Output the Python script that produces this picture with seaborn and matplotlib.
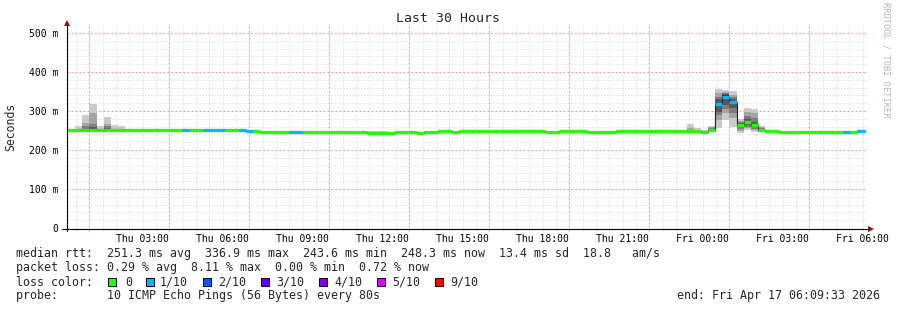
import numpy as np
import pandas as pd
import matplotlib
matplotlib.use("Agg")
import matplotlib.pyplot as plt
from matplotlib.lines import Line2D
from matplotlib.patches import Rectangle
import matplotlib.transforms as mtransforms
import seaborn as sns

# ---------------- data ----------------
STEP_MIN = 16                 # consolidation step in minutes
FIRST_STEP_MIN = -4           # first step starts Wed 23:56 (minutes from Thu 00:00)
VIEW_START_H = 9.55 / 60      # graph start Thu 00:09:33
VIEW_SPAN_H = 30

median_ms = [
    250.5, 250.5, 251.0, 251.5, 252.5, 251.5, 252.5, 251.5, 251.0, 251.0,
    251.0, 251.0, 250.5, 250.5, 250.5, 250.5, 250.5, 250.5, 251.0, 251.0,
    250.5, 250.5, 251.0, 251.0, 251.0, 251.5, 248.5, 248.5, 246.5, 246.5,
    246.5, 246.5, 246.5, 246.5, 246.0, 246.0, 246.0, 246.0, 246.0, 246.0,
    246.0, 246.0, 245.5, 244.5, 243.6, 244.0, 244.5, 246.0, 246.0, 246.5,
    244.5, 246.0, 247.0, 248.0, 248.5, 247.0, 248.5, 249.0, 248.5, 248.5,
    249.5, 249.0, 247.5, 247.5, 247.5, 248.0, 249.5, 248.5, 245.5, 247.0,
    248.0, 248.0, 248.0, 248.0, 245.5, 247.0, 246.0, 245.0, 247.5, 247.5,
    249.0, 248.0, 248.5, 248.5, 249.0, 248.5, 249.0, 248.5, 249.0, 248.5,
    247.0, 252.0, 318.0, 336.9, 323.0, 263.0, 271.0, 264.0, 252.0, 250.0,
    250.0, 247.0, 247.0, 245.5, 245.5, 245.5, 245.5, 246.0, 246.0, 246.0,
    247.0, 246.5, 248.3,
]

# lost pings (out of 10) per step -> loss colour index
loss_level = [
    0, 0, 0, 0, 0, 0, 0, 0, 0, 0,
    0, 0, 0, 0, 0, 0, 0, 1, 0, 0,
    1, 1, 1, 0, 0, 1, 1, 0, 0, 0,
    0, 0, 1, 1, 0, 0, 0, 0, 0, 0,
    0, 0, 0, 0, 0, 0, 0, 0, 0, 0,
    0, 0, 0, 0, 0, 0, 0, 0, 0, 0,
    0, 0, 0, 0, 0, 0, 0, 0, 0, 0,
    0, 0, 0, 0, 0, 0, 0, 0, 0, 0,
    0, 0, 0, 0, 0, 0, 0, 0, 0, 0,
    0, 0, 1, 1, 1, 0, 0, 0, 0, 0,
    0, 0, 0, 0, 0, 0, 0, 0, 0, 0,
    1, 0, 1,
]

# fastest ping below median / slowest ping above median (ms) for quiet steps
smoke_below = [
    3, 3, 5, 3, 3, 5, 3, 3, 5, 5,
    3, 3, 5, 3, 3, 5, 3, 5, 3, 3,
    5, 3, 3, 3, 3, 3, 3, 3, 3, 3,
    3, 3, 3, 3, 3, 5, 3, 3, 3, 3,
    4, 3, 3, 3, 3, 3, 3, 3, 3, 3,
    3, 3, 3, 3, 3, 3, 3, 3, 3, 3,
    3, 3, 3, 3, 3, 3, 3, 3, 3, 3,
    3, 3, 3, 3, 3, 3, 3, 3, 3, 3,
    3, 3, 3, 3, 3, 3, 3, 3, 3, 3,
    3, 3, 3, 3, 3, 3, 3, 3, 3, 3,
    3, 3, 3, 3, 3, 3, 3, 3, 3, 3,
    3, 3, 3,
]
smoke_above = [
    2, 2, 11, 2, 2, 10.5, 2, 12.5, 10, 2,
    2, 2, 2, 2, 2, 2, 2, 2, 2, 2,
    2, 2, 2, 2, 2, 2, 2, 2, 2, 2,
    2, 2, 2, 2, 2, 2, 2, 2, 2, 2,
    4, 4, 2, 5, 6, 5, 2, 4, 2, 2,
    2, 2, 2, 3, 3, 2, 3, 2, 2, 2,
    2, 2, 2, 2, 2, 2, 2, 2, 2, 2,
    2, 2, 2, 2, 2, 2, 2, 3, 3, 3,
    2, 2, 2, 2, 2, 2, 2, 2, 2, 8.5,
    4, 2, 2, 2, 2, 2, 2, 2, 2, 2,
    2, 2, 2, 2, 2, 2, 2, 2, 2, 2,
    2, 2, 2,
]

# all ten ping times (ms) for the steps with visible smoke
burst_pings = {
    3:  [247, 249, 250, 251, 251, 252, 254, 262, 270, 290],
    4:  [246, 248, 250, 252, 252, 253, 259, 267, 296, 318],
    6:  [247, 249, 250, 251, 252, 253, 256, 262, 266, 285],
    88: [246, 247, 248, 248, 249, 249, 250, 252, 257, 266],
    91: [248, 249, 250, 251, 252, 252, 254, 256, 258, 261],
    92: [256, 277, 290, 298, 315, 321, 330, 337, 347, 356],
    93: [277, 294, 305, 315, 334, 339.8, 343, 346, 349, 354],
    94: [258, 281, 295, 307, 320, 326, 332, 337, 341, 351],
    95: [244, 250, 255, 258, 262, 264, 268, 272, 275, 279],
    96: [251, 256, 260, 265, 269, 273, 280, 288, 298, 307],
    97: [247, 251, 255, 259, 263, 265, 272, 282, 294, 304],
    98: [246, 248, 249, 250, 251, 253, 254, 256, 258, 261],
}

x_tick_hours = [3, 6, 9, 12, 15, 18, 21, 24, 27, 30]
x_tick_labels = ["Thu 03:00", "Thu 06:00", "Thu 09:00", "Thu 12:00", "Thu 15:00",
                 "Thu 18:00", "Thu 21:00", "Fri 00:00", "Fri 03:00", "Fri 06:00"]
y_ticks = [0, 100, 200, 300, 400, 500]
y_tick_labels = ["0", "100 m", "200 m", "300 m", "400 m", "500 m"]

loss_names = ["0", "1/10", "2/10", "3/10", "4/10", "5/10", "9/10"]
loss_colors = ["#26ff00", "#00b8ff", "#0059ff", "#5e00ff", "#7e00ff", "#dd00ff", "#ff0000"]
smoke_grays = ["#cacaca", "#a4a4a4", "#7e7e7e", "#585858", "#323232"]

title = "Last 30 Hours"
y_label = "Seconds"
legend_lines = [
    "median rtt:  251.3 ms avg  336.9 ms max  243.6 ms min  248.3 ms now  13.4 ms sd  18.8   am/s",
    "packet loss: 0.29 % avg  8.11 % max  0.00 % min  0.72 % now",
    "loss color:",
    "probe:       10 ICMP Echo Pings (56 Bytes) every 80s",
]
end_text = "end: Fri Apr 17 06:09:33 2026"
watermark = "RRDTOOL / TOBI OETIKER"

# ---------------- figure ----------------
sns.set_style("white")
plt.rcParams["font.family"] = ["DejaVu Sans Mono", "DejaVu Sans"]

W, H = 897, 310
fig = plt.figure(figsize=(W / 100, H / 100), dpi=100)
fig.patch.set_facecolor("white")

def fx(px):
    return px / W

def fy(py):
    return 1 - py / H

ax = fig.add_axes([fx(67), fy(228), 800 / W, 202 / H])
ax.set_facecolor("white")
ax.set_xlim(VIEW_START_H, VIEW_START_H + VIEW_SPAN_H)
ax.set_ylim(0, 518)
for s in ax.spines.values():
    s.set_visible(False)

# grid
minor_c = "#d2d2d2"
major_c = "#f29a9a"
for v in np.arange(20, 518, 20):
    if v % 100 == 0:
        continue
    ax.axhline(v, color=minor_c, zorder=0, lw=0.72, ls=(0, (1, 2)))
for h in np.arange(0.5, 30.5, 0.5):
    if (h - 1) % 3 == 0:
        continue
    ax.axvline(h, color=minor_c, zorder=0, lw=0.72, ls=(0, (1, 2)))
for v in range(100, 501, 100):
    ax.axhline(v, color=major_c, zorder=0.5, lw=0.72, ls=(0, (2, 2)))
for h in range(1, 30, 3):
    ax.axvline(h, color=major_c, zorder=0.5, lw=0.72, ls=(0, (2, 2)))

# data frame
n = len(median_ms)
assert all(len(a) == n for a in (loss_level, smoke_below, smoke_above))
t_start = (FIRST_STEP_MIN + STEP_MIN * np.arange(n)) / 60.0
t_end = t_start + STEP_MIN / 60.0
df = pd.DataFrame({"t": t_start, "t_end": t_end, "median": median_ms, "loss": loss_level})

pings = np.empty((n, 10))
for k in range(n):
    if k in burst_pings:
        pings[k] = sorted(burst_pings[k])
    else:
        m = median_ms[k]
        pings[k] = [m - smoke_below[k]] + [m] * 8 + [m + smoke_above[k]]

t_edges = np.append(t_start, t_end[-1])
for i, g in enumerate(smoke_grays):
    lo = np.append(pings[:, i], pings[-1, i])
    hi = np.append(pings[:, 9 - i], pings[-1, 9 - i])
    ax.fill_between(t_edges, lo, hi, step="post", color=g, linewidth=0, zorder=2)

# thin dark median step line
med_ext = pd.DataFrame({"t": t_edges, "median": np.append(df["median"].values, df["median"].values[-1])})
sns.lineplot(data=med_ext, x="t", y="median", drawstyle="steps-post", color="#202020",
             lw=0.8, ax=ax, zorder=3, estimator=None, sort=False)

# loss coloured median segments
ax.hlines(df["median"], df["t"], df["t_end"], colors=[loss_colors[l] for l in df["loss"]],
          lw=2.4, zorder=4, capstyle="butt")

ax.set_xlabel("")
ax.set_ylabel("")

# ticks
ax.set_xticks(x_tick_hours, x_tick_labels)
ax.set_yticks(y_ticks, y_tick_labels)
ax.tick_params(axis="x", length=0, pad=4, labelsize=7, colors="black")
ax.tick_params(axis="y", length=4, width=0.7, pad=2.5, labelsize=7, colors="black", direction="out")

trans = mtransforms.blended_transform_factory(ax.transData, ax.transAxes)
minor_t = [h for h in np.arange(0.5, 30.5, 0.5) if (h - 1) % 3 != 0 and h > VIEW_START_H]
major_t = list(range(1, 30, 3))
ax.vlines(minor_t, -0.012, 0, transform=trans, colors="#b0b0b0", lw=0.7, clip_on=False)
ax.vlines(major_t, -0.015, 0, transform=trans, colors="#e08080", lw=0.7, clip_on=False)

# axis lines with arrows
fig.add_artist(Line2D([fx(66.5), fx(66.5)], [fy(231), fy(24)], color="black", lw=0.8))
fig.add_artist(Line2D([fx(62), fx(869)], [fy(228.5), fy(228.5)], color="black", lw=0.8))
fig.add_artist(Line2D([fx(66.5)], [fy(22.5)], marker="^", markersize=4, color="#8b1010",
                      markeredgewidth=0, linestyle="none"))
fig.add_artist(Line2D([fx(870.5)], [fy(228.5)], marker=">", markersize=4, color="#8b1010",
                      markeredgewidth=0, linestyle="none"))

# texts
fig.text(fx(447.5), fy(19), title, ha="center", va="center", fontsize=9.5)
fig.text(fx(11), fy(127), y_label, ha="center", va="center", rotation=90, fontsize=8.3)
fig.text(fx(886), fy(60), watermark, ha="center", va="center", rotation=270, fontsize=6.2,
         color="#b4b4b4")

leg_y = [254, 268, 282, 296]
for txt, yy in zip(legend_lines, leg_y):
    fig.text(fx(16), fy(yy), txt, ha="left", va="center", fontsize=8.37)
fig.text(fx(880), fy(296), end_text, ha="right", va="center", fontsize=8.37)

box_x = [108, 146, 203, 261, 319, 377, 435]
lab_x = [125, 160, 218, 276, 334, 392, 450]
for name, col, bx, lx in zip(loss_names, loss_colors, box_x, lab_x):
    fig.add_artist(Rectangle((fx(bx), fy(286)), 8 / W, 8 / H, facecolor=col,
                             edgecolor="black", lw=0.7, transform=fig.transFigure))
    fig.text(fx(lx), fy(282), name, ha="left", va="center", fontsize=8.37)

fig.savefig("out.png", dpi=100, facecolor="white")
